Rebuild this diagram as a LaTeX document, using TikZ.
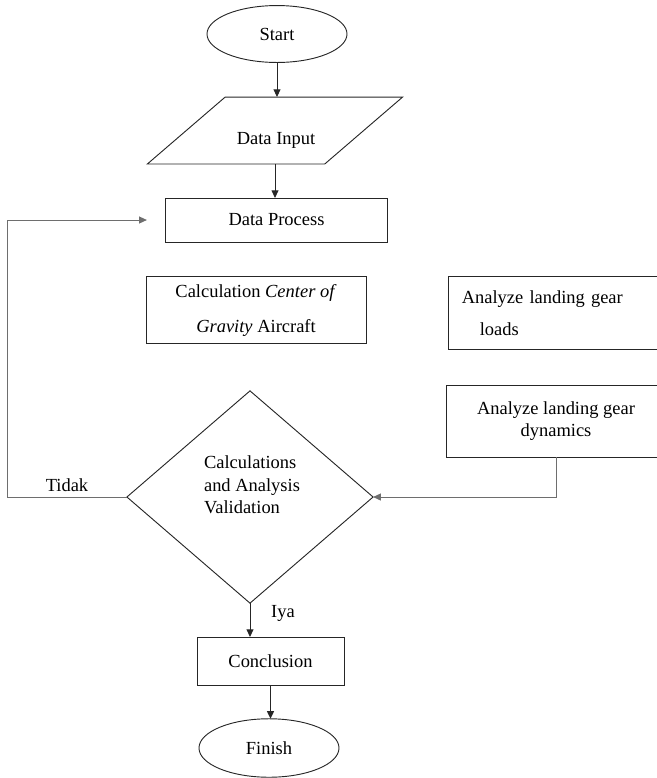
\documentclass[tikz,border=0pt]{standalone}
\usepackage{fontspec}
\setmainfont{Liberation Serif}
\usepackage{tikz}
\usetikzlibrary{positioning, arrows.meta, shapes.geometric}
\definecolor{ink}{HTML}{262626}
\definecolor{faint}{HTML}{6E6E6E}

\begin{document}
\begin{tikzpicture}[x=0.65pt, y=-0.65pt,
  term/.style={ellipse, draw=ink, line width=0.6pt, minimum width=91pt, minimum height=37pt,
               inner sep=0pt, outer sep=0pt, font=\fontsize{12}{14.5}\selectfont},
  io/.style={trapezium, trapezium left angle=52, trapezium right angle=128, trapezium stretches=true,
             draw=ink, line width=0.6pt, minimum width=166pt, minimum height=43.5pt, outer sep=0pt},
  box/.style={rectangle, draw=ink, line width=0.6pt, align=center, inner sep=0pt, outer sep=0pt,
              font=\fontsize{12}{14.5}\selectfont},
  decide/.style={diamond, draw=ink, line width=0.6pt, minimum width=160pt, minimum height=138pt,
                 inner sep=0pt, outer sep=0pt},
  txt/.style={font=\fontsize{12}{14.5}\selectfont, text=black},
  flow/.style={-{Triangle[length=5pt, width=4.5pt]}, draw=ink, line width=0.6pt},
  back/.style={-{Triangle[length=5pt, width=4.5pt]}, draw=faint, line width=0.6pt},
]
\useasboundingbox (0,0) rectangle (657,778);
\clip (0,0) rectangle (657,778);
% main column
\node[term] (start) at (277,34) {Start};
\node[io] (input) at (275,130.5) {};
\node[txt] (inputtxt) at (276,140) {Data Input};
\node[box, minimum width=143.7pt, minimum height=28.6pt] (proc) at (276.5,220) {Data Process};
\node[box, minimum width=143pt, minimum height=44pt, font=\fontsize{12}{22.75}\selectfont] (cog) at (256,310)
  {Calculation \textit{Center of}\\\textit{Gravity} Aircraft};
% right column (runs off the page)
\node[box, minimum width=143pt, minimum height=48pt, text width=125pt, align=left, inner xsep=9pt,
      font=\fontsize{12}{21}\selectfont] (loads) at (558,313)
  {Analyze landing gear\\\hspace*{11.7pt}loads};
\node[box, minimum width=143pt, minimum height=46.8pt] (dyn) at (556,421)
  {Analyze landing gear\\dynamics};
% decision
\node[decide] (valid) at (250,497) {};
\node[txt, align=left] (validtxt) at (252,485) {Calculations\\and Analysis\\Validation};
\node[txt] (tidak) at (67,485) {Tidak};
\node[txt] (iya) at (283,613) {Iya};
% end
\node[box, minimum width=95.6pt, minimum height=31.2pt] (concl) at (270.5,661) {Conclusion};
\node[term, minimum height=38pt] (finish) at (269,748) {Finish};
% arrows
\draw[flow] (start.south) -- (start.south |- input.north);
\draw[flow] (input.south) -- (input.south |- proc.north);
\draw[flow] (valid.south) -- (valid.south |- concl.north);
\draw[flow, line width=1pt] (concl.south) -- (concl.south |- finish.north);
\draw[back] (dyn.south) |- (valid.east);
\draw[back, shorten >=12.4pt] (valid.west) -- ++(-119,0) |- (proc.west);
\end{tikzpicture}
\end{document}
